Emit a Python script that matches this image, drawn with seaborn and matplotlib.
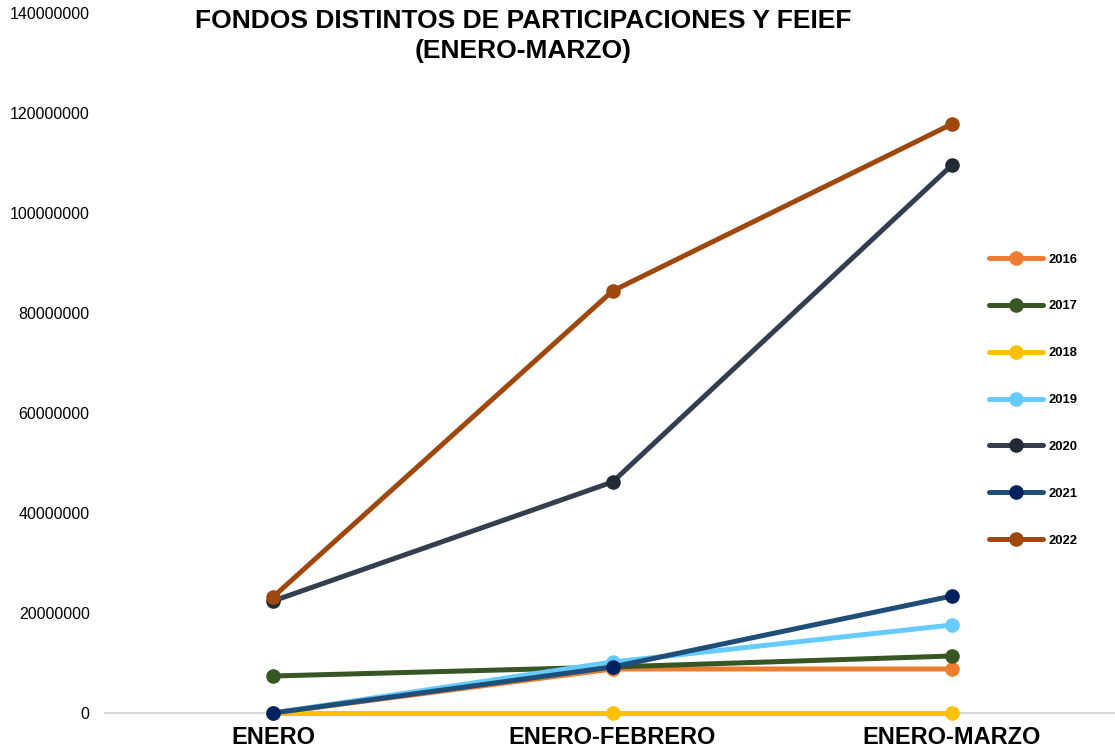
import matplotlib
matplotlib.use("Agg")
import matplotlib.pyplot as plt
import matplotlib.ticker as mticker
import pandas as pd
import seaborn as sns

# Data
periodos = ["ENERO", "ENERO-FEBRERO", "ENERO-MARZO"]
anios = ["2016", "2017", "2018", "2019", "2020", "2021", "2022"]
v2016 = [0, 8.8e6, 8.8e6]
v2017 = [7.4e6, 9.2e6, 11.4e6]
v2018 = [0, 0, 0]
v2019 = [0, 10.2e6, 17.6e6]
v2020 = [22.4e6, 46.2e6, 109.6e6]
v2021 = [0, 9.2e6, 23.4e6]
v2022 = [23.2e6, 84.4e6, 117.8e6]

line_colors = ["#ED7D31", "#375623", "#FFC000", "#66CCFF", "#333F50", "#1F4E79", "#9E480E"]
marker_colors = ["#ED7D31", "#375623", "#FFC000", "#66CCFF", "#222A35", "#002060", "#9E480E"]

valores = [v2016, v2017, v2018, v2019, v2020, v2021, v2022]
rows = []
for anio, serie in zip(anios, valores):
    for p, v in zip(periodos, serie):
        rows.append({"periodo": p, "valor": v, "anio": anio})
df = pd.DataFrame(rows)

sns.set_theme(style="white")
plt.rcParams["font.family"] = ["Liberation Sans", "DejaVu Sans"]
plt.rcParams["text.color"] = "black"
plt.rcParams["xtick.color"] = "black"
plt.rcParams["ytick.color"] = "black"

fig = plt.figure(figsize=(11.15, 7.52), dpi=100)
ax = fig.add_axes([105 / 1115, 39 / 752, 1 - 105 / 1115, 700 / 752])

sns.lineplot(data=df, x="periodo", y="valor", hue="anio", palette=line_colors,
             marker="o", markersize=10.5, markeredgewidth=0, linewidth=3.6,
             sort=False, ax=ax, legend=False)

# Darker marker fill for some series, as in the original
for line, mc in zip(ax.lines, marker_colors):
    line.set_markerfacecolor(mc)
    line.set_markeredgecolor(mc)
    line.set_clip_on(False)

ax.set_xlim(-0.495, 2.48)
ax.set_ylim(0, 140e6)
ax.set_yticks(range(0, 140000001, 20000000))
ax.yaxis.set_major_formatter(mticker.FuncFormatter(lambda v, _: f"{int(v)}"))
ax.tick_params(axis="y", labelsize=11.5, length=0, pad=11, labelcolor="black")
ax.tick_params(axis="x", labelsize=17, length=0, pad=9, labelcolor="black")
for lab in ax.get_xticklabels():
    lab.set_fontweight("bold")
ax.set_xlabel("")
ax.set_ylabel("")
ax.grid(False)
for s in ["left", "right", "top"]:
    ax.spines[s].set_visible(False)
ax.spines["bottom"].set_color("#D9D9D9")
ax.spines["bottom"].set_linewidth(1.5)
ax.spines["bottom"].set_zorder(0)

handles = ax.lines[:len(anios)]
fig.legend(handles, anios, loc="center left", bbox_to_anchor=(989 / 1115, 0.468),
           frameon=False, borderaxespad=0, borderpad=0, handlelength=4.15,
           handletextpad=0.4, labelspacing=2.66,
           prop={"size": 9.4, "weight": "bold"})

fig.text(523 / 1115, 1 - 36 / 752,
         "FONDOS DISTINTOS DE PARTICIPACIONES Y FEIEF\n(ENERO-MARZO)",
         ha="center", va="center", fontsize=19, fontweight="bold",
         linespacing=1.3, color="black")

fig.savefig("out.png", dpi=100)
